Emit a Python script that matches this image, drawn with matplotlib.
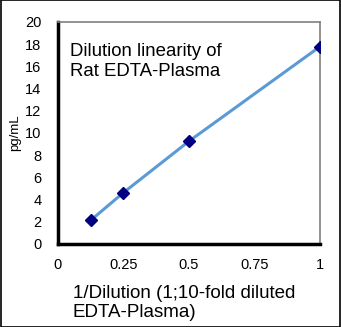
import matplotlib
matplotlib.use("Agg")
import matplotlib.pyplot as plt
from matplotlib.patches import Rectangle

plt.rcParams['font.family'] = ['Liberation Sans', 'DejaVu Sans']

inv_dilution = [0.125, 0.25, 0.5, 1.0]
conc = [2.13, 4.62, 9.25, 17.77]
xticks = [0, 0.25, 0.5, 0.75, 1]
xticklabels = ["0", "0.25", "0.5", "0.75", "1"]
yticks = list(range(0, 21, 2))

fig = plt.figure(figsize=(3.41, 3.27), dpi=100)
ax = fig.add_axes([0.170, 0.254, 0.768, 0.679])

ax.plot(inv_dilution, conc, color="#5B9BD5", lw=2.2, zorder=2)
ax.plot(inv_dilution, conc, ls="none", marker="D", ms=6.5,
        color="#000080", zorder=3)

ax.set_xlim(0, 1)
ax.set_ylim(0, 20)
ax.set_xticks(xticks)
ax.set_xticklabels(xticklabels)
ax.set_yticks(yticks)
ax.tick_params(length=0, labelsize=10.5, colors="#000000")
ax.tick_params(axis="x", pad=10)
ax.tick_params(axis="y", pad=12)

for s in ["left", "bottom"]:
    ax.spines[s].set_linewidth(2.5)
    ax.spines[s].set_color("black")
for s in ["top", "right"]:
    ax.spines[s].set_linewidth(1.2)
    ax.spines[s].set_color("#808080")

ax.set_ylabel("pg/mL", fontsize=9.5, labelpad=3)

ax.text(0.045, 0.905, "Dilution linearity of\nRat EDTA-Plasma", transform=ax.transAxes,
        fontsize=13.4, va="top", ha="left", linespacing=1.2)

fig.text(0.214, 0.018, "1/Dilution (1;10-fold diluted\nEDTA-Plasma)",
         fontsize=13.5, ha="left", va="bottom", linespacing=1.2)

fig.patches.append(Rectangle((0.0015, 0.0015), 0.997, 0.997, transform=fig.transFigure,
                             fill=False, edgecolor="black", lw=1.2))

fig.savefig("out.png", dpi=100)
